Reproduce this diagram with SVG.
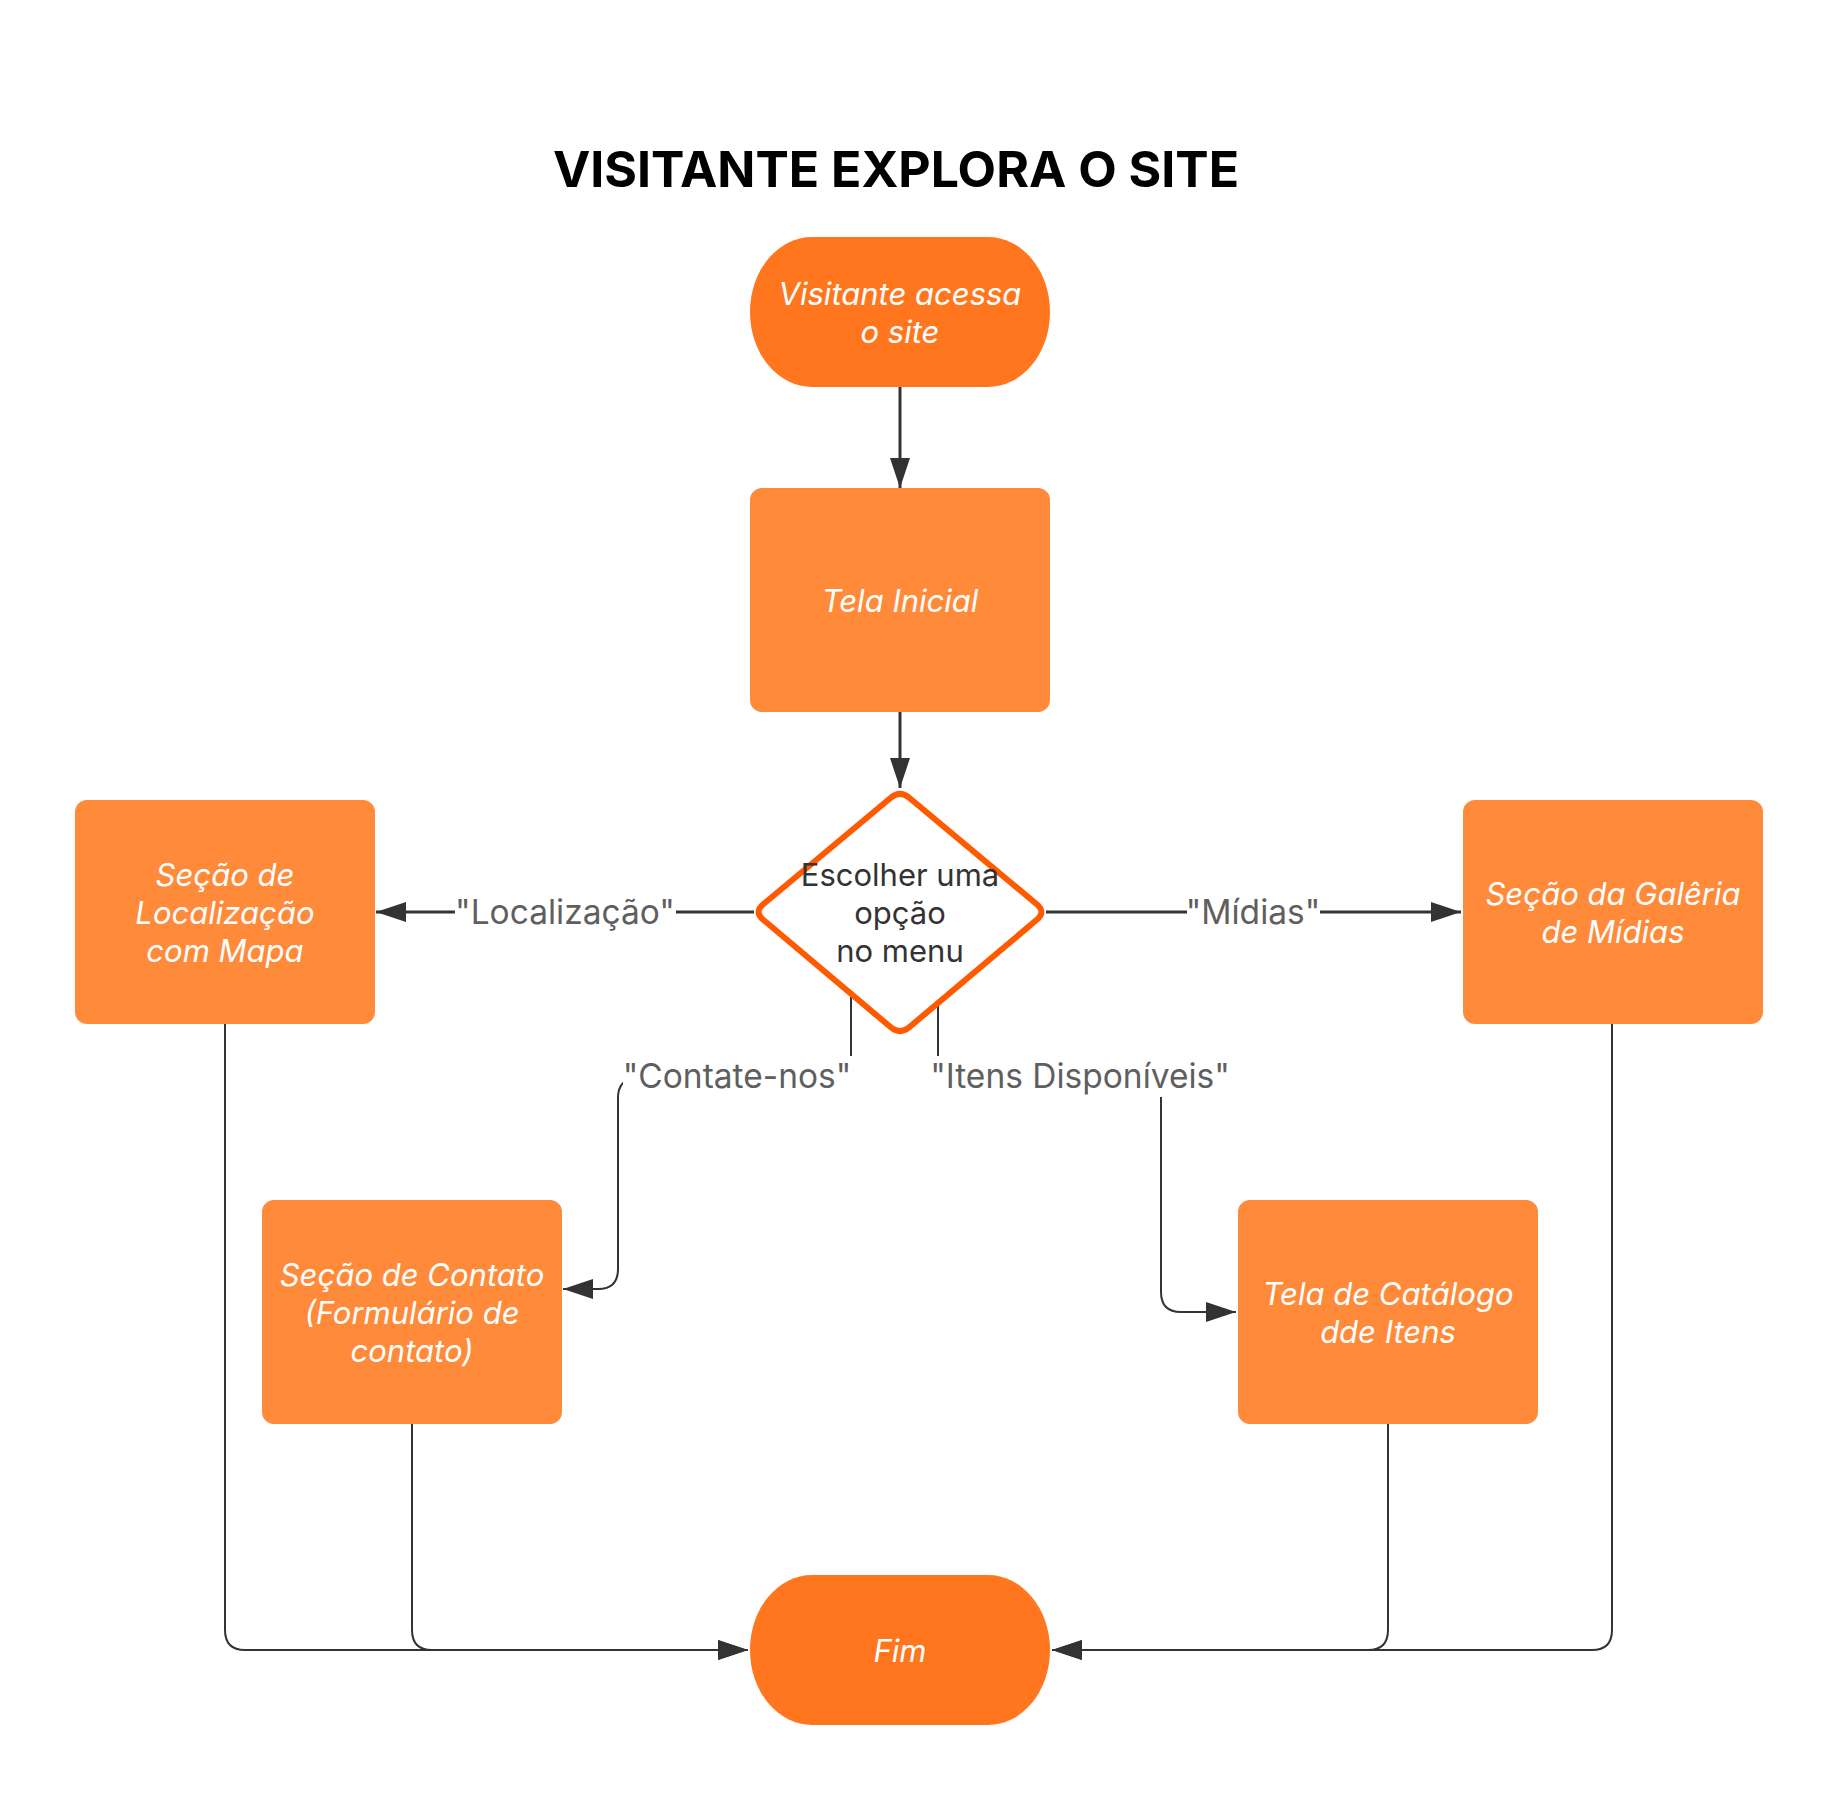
<svg xmlns="http://www.w3.org/2000/svg" width="1838" height="1800" viewBox="0 0 1838 1800">
<style>
.title{font-family:Inter,"Liberation Sans",sans-serif;font-weight:700;font-size:50px;fill:#000}
.nt{font-family:Inter,"Liberation Sans",sans-serif;font-style:italic;font-size:31px;fill:#fff}
.dt{font-family:Inter,"Liberation Sans",sans-serif;font-size:31px;fill:#333}
.lb{font-family:Inter,"Liberation Sans",sans-serif;font-size:33.5px;fill:#5f5f5f}
.box{fill:#FF8A3A}
.term{fill:#FF761F}
.c{fill:none;stroke:#333}
.main{stroke-width:3}
.rt{stroke-width:2}
.lbg{fill:#fff}
</style>
<defs>
<marker id="ah" viewBox="0 0 30 20" refX="30" refY="10" markerWidth="30" markerHeight="20" markerUnits="userSpaceOnUse" orient="auto">
<path d="M0,0 L30,10 L0,20 Z" fill="#333"/>
</marker>
</defs>
<rect width="1838" height="1800" fill="#fff"/>
<text class="title" x="896" y="169" text-anchor="middle" dominant-baseline="central">VISITANTE EXPLORA O SITE</text>

<g id="connectors">
<path class="c main" d="M900,387 V488" marker-end="url(#ah)"/>
<path class="c main" d="M900,712 V788" marker-end="url(#ah)"/>
<path class="c main" d="M754,912 H376" marker-end="url(#ah)"/>
<path class="c main" d="M1046,912 H1461" marker-end="url(#ah)"/>
<path class="c rt" d="M851,996 V1078 H638 Q618,1078 618,1098 V1269 Q618,1289 598,1289 H563" marker-end="url(#ah)"/>
<path class="c rt" d="M938,1003 V1078 H1161 V1292 Q1161,1312 1181,1312 H1236" marker-end="url(#ah)"/>
<path class="c rt" d="M225,1024 V1630 Q225,1650 245,1650 H748" marker-end="url(#ah)"/>
<path class="c rt" d="M412,1424 V1630 Q412,1650 432,1650 H748" marker-end="url(#ah)"/>
<path class="c rt" d="M1388,1424 V1630 Q1388,1650 1368,1650 H1052" marker-end="url(#ah)"/>
<path class="c rt" d="M1612,1024 V1630 Q1612,1650 1592,1650 H1052" marker-end="url(#ah)"/>
<g id="labels">
<rect class="lbg" x="455" y="893" width="221" height="40"/>
<text class="lb" x="565" y="912" text-anchor="middle" dominant-baseline="central">"Localização"</text>
<rect class="lbg" x="1187" y="893" width="133" height="40"/>
<text class="lb" x="1253" y="912" text-anchor="middle" dominant-baseline="central">"Mídias"</text>
<rect class="lbg" x="623" y="1056" width="230" height="41"/>
<text class="lb" x="737" y="1076" text-anchor="middle" dominant-baseline="central">"Contate-nos"</text>
<rect class="lbg" x="929" y="1056" width="302" height="41"/>
<text class="lb" x="1080" y="1076" text-anchor="middle" dominant-baseline="central">"Itens Disponíveis"</text>
</g>
</g>

<g id="start">
<rect class="term" x="750" y="237" width="300" height="150" rx="62" ry="75"/>
<text class="nt" x="900" text-anchor="middle" dominant-baseline="central"><tspan x="900" y="293">Visitante acessa</tspan><tspan x="900" y="331">o site</tspan></text>
</g>
<g id="tela-inicial">
<rect class="box" x="750" y="488" width="300" height="224" rx="12"/>
<text class="nt" x="900" y="600" text-anchor="middle" dominant-baseline="central">Tela Inicial</text>
</g>
<g id="decisao">
<path d="M909.2,797.7 L1036.8,904.3 Q1046,912 1036.8,919.7 L909.2,1027.3 Q900,1035 890.8,1027.3 L763.2,919.7 Q754,912 763.2,904.3 L890.8,797.7 Q900,790 909.2,797.7 Z" fill="#fff" stroke="#FF5A00" stroke-width="6" stroke-linejoin="round"/>
<text class="dt" text-anchor="middle" dominant-baseline="central"><tspan x="900" y="874">Escolher uma</tspan><tspan x="900" y="912">opção</tspan><tspan x="900" y="950">no menu</tspan></text>
</g>
<g id="localizacao">
<rect class="box" x="75" y="800" width="300" height="224" rx="12"/>
<text class="nt" text-anchor="middle" dominant-baseline="central"><tspan x="225" y="874">Seção de</tspan><tspan x="225" y="912">Localização</tspan><tspan x="225" y="950">com Mapa</tspan></text>
</g>
<g id="galeria">
<rect class="box" x="1463" y="800" width="300" height="224" rx="12"/>
<text class="nt" text-anchor="middle" dominant-baseline="central"><tspan x="1613" y="893">Seção da Galêria</tspan><tspan x="1613" y="931">de Mídias</tspan></text>
</g>
<g id="contato">
<rect class="box" x="262" y="1200" width="300" height="224" rx="12"/>
<text class="nt" text-anchor="middle" dominant-baseline="central"><tspan x="412" y="1274">Seção de Contato</tspan><tspan x="412" y="1312">(Formulário de</tspan><tspan x="412" y="1350">contato)</tspan></text>
</g>
<g id="catalogo">
<rect class="box" x="1238" y="1200" width="300" height="224" rx="12"/>
<text class="nt" text-anchor="middle" dominant-baseline="central"><tspan x="1388" y="1293">Tela de Catálogo</tspan><tspan x="1388" y="1331">dde Itens</tspan></text>
</g>
<g id="fim">
<rect class="term" x="750" y="1575" width="300" height="150" rx="62" ry="75"/>
<text class="nt" x="900" y="1650" text-anchor="middle" dominant-baseline="central">Fim</text>
</g>
</svg>
